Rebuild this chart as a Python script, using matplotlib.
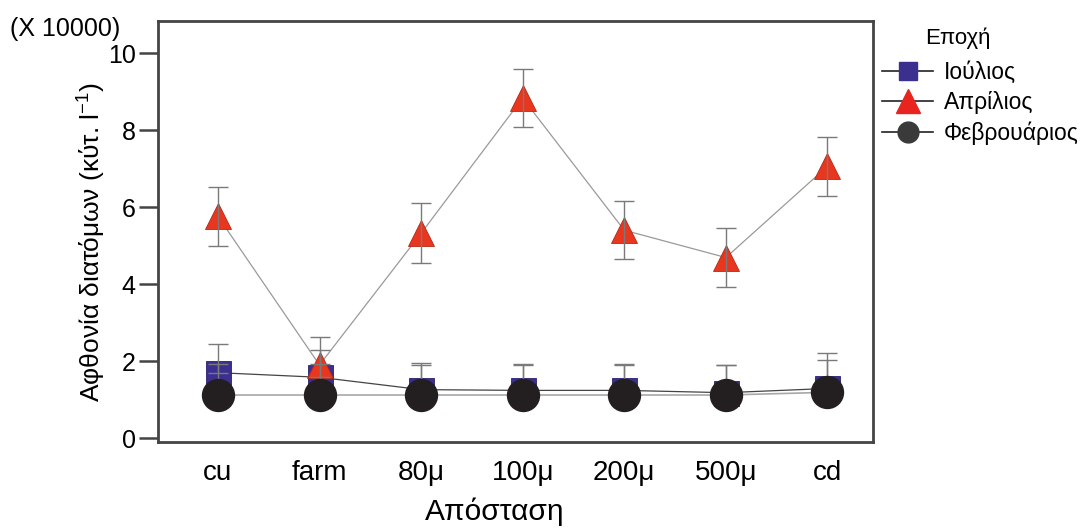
import matplotlib.pyplot as plt
from matplotlib.lines import Line2D
import numpy as np

plt.rcParams['font.family'] = ['Liberation Sans', 'DejaVu Sans']
plt.rcParams['mathtext.fontset'] = 'custom'
plt.rcParams['mathtext.rm'] = 'Liberation Sans'
plt.rcParams['mathtext.it'] = 'Liberation Sans'

# ------------------------------ DATA (x 10000 cells per litre) ------------------------------
stations = ['cu', 'farm', '80μ', '100μ', '200μ', '500μ', 'cd']

iouliou = [1.70, 1.58, 1.26, 1.24, 1.24, 1.18, 1.29]
iouliou_err = [0.74, 0.71, 0.68, 0.68, 0.68, 0.72, 0.93]

aprilios = [5.76, 1.90, 5.32, 8.83, 5.40, 4.69, 7.06]
aprilios_err = [0.76, 0.72, 0.78, 0.75, 0.76, 0.77, 0.76]

fevrouarios = [1.12, 1.12, 1.12, 1.12, 1.12, 1.12, 1.19]
fevrouarios_err = [0.80, 0.80, 0.77, 0.77, 0.78, 0.78, 0.84]

series_names = ['Ιούλιος', 'Απρίλιος', 'Φεβρουάριος']

# ------------------------------ PLOT ------------------------------
fig = plt.figure(figsize=(10.82, 5.29), dpi=100)
ax = fig.add_axes([0.146, 0.1645, 0.661, 0.7955])

x = np.arange(len(stations))
err_kw = dict(ecolor='#7a7a7a', elinewidth=1.0, capsize=7.5, capthick=1.0, zorder=5)

# July - blue squares (only the upper half of the error bar shows above the circles)
ax.plot(x, iouliou, color='#444444', linewidth=0.9, zorder=2)
ax.plot(x, iouliou, linestyle='none', marker='s', markersize=18,
        markerfacecolor='#3b2f8f', markeredgecolor='#2a2070', markeredgewidth=0.6, zorder=3)
ax.errorbar(x, iouliou, yerr=[np.zeros(len(x)), iouliou_err], fmt='none', **err_kw)

# April - red triangles
ax.plot(x, aprilios, color='#9a9a9a', linewidth=0.9, zorder=2)
ax.plot(x, aprilios, linestyle='none', marker='^', markersize=19,
        markerfacecolor='#e8361f', markeredgecolor='#b02a18', markeredgewidth=0.6, zorder=3.5)
ax.errorbar(x, aprilios, yerr=aprilios_err, fmt='none', **err_kw)

# February - black circles
ax.errorbar(x, fevrouarios, yerr=[np.zeros(len(x)), fevrouarios_err], fmt='none', **err_kw)
ax.plot(x, fevrouarios, color='#a8a8a8', linewidth=1.2, zorder=2)
ax.plot(x, fevrouarios, linestyle='none', marker='o', markersize=23,
        markerfacecolor='#231f20', markeredgecolor='#231f20', zorder=6)

ax.set_xlim(-0.59, 6.45)
ax.set_ylim(-0.1, 10.83)
ax.set_yticks([0, 2, 4, 6, 8, 10])
ax.set_xticks(x)
ax.set_xticklabels(stations)

ax.tick_params(axis='y', length=14, width=1.8, color='#444444', labelsize=18, pad=2)
ax.tick_params(axis='x', length=0, labelsize=20, pad=13)
for s in ax.spines.values():
    s.set_linewidth(2.0)
    s.set_color('#444444')

ax.set_ylabel('Αφθονία διατόμων (κύτ. l$^{-1}$)', fontsize=19)
ax.yaxis.set_label_coords(-0.07, 0.475)
ax.set_xlabel('Απόσταση', fontsize=21.5)
ax.xaxis.set_label_coords(0.471, -0.133)
fig.text(0.009, 0.945, '(X 10000)', fontsize=18, ha='left', va='center')

# legend outside, on the right
handles = [
    Line2D([0], [0], color='#222222', linewidth=1.2, marker='s', markersize=13,
           markerfacecolor='#3b2f8f', markeredgecolor='#3b2f8f'),
    Line2D([0], [0], color='#222222', linewidth=1.2, marker='^', markersize=17,
           markerfacecolor='#e8241f', markeredgecolor='#e8241f'),
    Line2D([0], [0], color='#222222', linewidth=1.2, marker='o', markersize=15,
           markerfacecolor='#3a3a3a', markeredgecolor='#3a3a3a'),
]
fig.text(0.855, 0.928, 'Εποχή', fontsize=16, ha='left', va='center')
leg = fig.legend(handles, series_names, loc='upper left',
                 bbox_to_anchor=(0.8155, 0.885), frameon=False, fontsize=16.5,
                 handlelength=2.2, handletextpad=0.5,
                 labelspacing=0.32, borderaxespad=0.0, borderpad=0.0)

fig.savefig('out.png', dpi=100)
